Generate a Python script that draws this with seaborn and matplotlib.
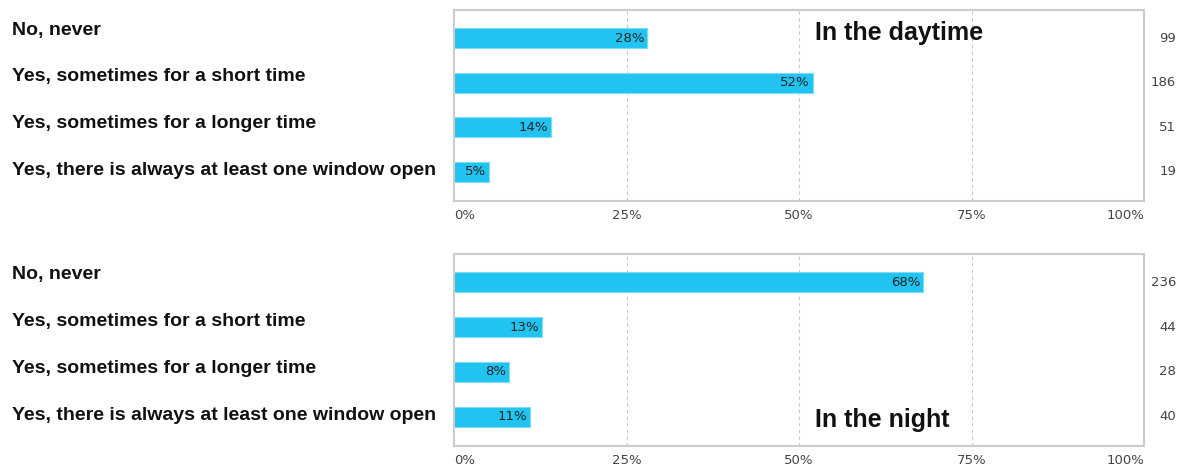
import matplotlib
matplotlib.use("Agg")
import matplotlib.pyplot as plt
import matplotlib.transforms as mtransforms
import seaborn as sns
import pandas as pd

# answer categories (same for both panels)
categories = [
    "No, never",
    "Yes, sometimes for a short time",
    "Yes, sometimes for a longer time",
    "Yes, there is always at least one window open",
]

# daytime
day_pct = [28.0, 52.0, 14.0, 5.0]
day_counts = [99, 186, 51, 19]

# night
night_pct = [68.0, 12.8, 8.0, 11.0]
night_counts = [236, 44, 28, 40]

x_ticks = [0, 25, 50, 75, 100]
x_ticklabels = ["0%", "25%", "50%", "75%", "100%"]

bar_color = "#21c4f1"

sns.set_style("white")
plt.rcParams["font.family"] = ["Liberation Sans", "DejaVu Sans"]

W, H = 1194, 471
fig = plt.figure(figsize=(W / 100, H / 100), dpi=100)


def panel(rect, pct, counts, title, title_y):
    ax = fig.add_axes(rect)
    df = pd.DataFrame({"cat": categories, "pct": pct})
    sns.barplot(data=df, x="pct", y="cat", orient="h", color=bar_color,
                width=0.45, saturation=1, edgecolor="#7fdcf7", linewidth=0.8, ax=ax)
    ax.set_xlim(0, 100)
    ax.set_ylim(3.65, -0.63)
    ax.set_xlabel("")
    ax.set_ylabel("")
    ax.set_yticks([])
    ax.set_xticks(x_ticks)
    ax.set_xticklabels(x_ticklabels, fontsize=9.5, color="#444444", family="DejaVu Sans")
    labels = ax.get_xticklabels()
    labels[0].set_horizontalalignment("left")
    labels[-1].set_horizontalalignment("right")
    ax.tick_params(axis="x", length=0, pad=6)
    for x in [25, 50, 75]:
        ax.axvline(x, color="#c8c8c8", linestyle=(0, (3, 3)), linewidth=0.8, zorder=0)
    for s in ax.spines.values():
        s.set_color("#cccccc")
        s.set_linewidth(1.5)

    # percent labels inside the bar ends
    for i, p in enumerate(pct):
        ax.text(p - 0.4, i, f"{round(p)}%", ha="right", va="center",
                fontsize=9.5, color="#222222", family="DejaVu Sans")

    # category labels sit on a slightly wider spacing than the bars
    trans = mtransforms.blended_transform_factory(fig.transFigure, ax.transData)
    for i, c in enumerate(categories):
        ax.text(12 / W, -0.18 + i * 1.05, c, transform=trans, ha="left", va="center",
                fontsize=14, fontweight="bold", color="#111111")
    for i, n in enumerate(counts):
        ax.text(1176 / W, i, str(n), transform=trans, ha="right", va="center",
                fontsize=9.5, color="#444444", family="DejaVu Sans")

    ax.text(815 / W, title_y, title, transform=trans, ha="left", va="center",
            fontsize=18, fontweight="bold", color="#111111")
    return ax


panel([454 / W, 1 - 201 / H, 690 / W, 191 / H], day_pct, day_counts, "In the daytime", -0.12)
panel([454 / W, 1 - 446 / H, 690 / W, 192 / H], night_pct, night_counts, "In the night", 3.08)

fig.savefig("out.png", dpi=100)
